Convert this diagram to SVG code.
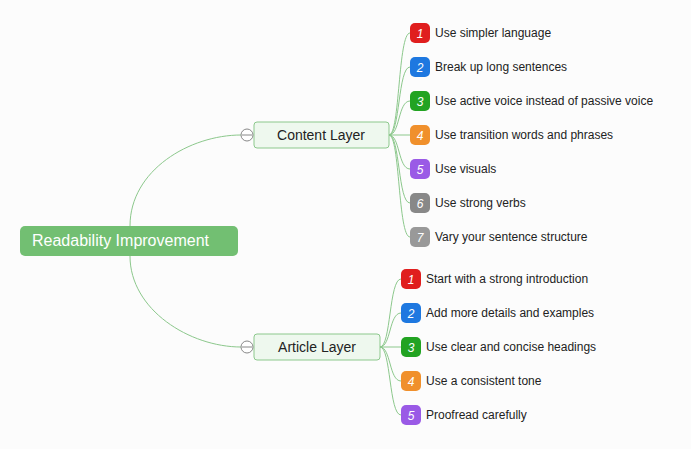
<svg xmlns="http://www.w3.org/2000/svg" width="691" height="449" viewBox="0 0 691 449">
<defs>
<style>
.c{fill:none;stroke:#8cc88c;stroke-width:1}
.t{font-family:"Liberation Sans",Arial,sans-serif;font-size:12px;fill:#222}
.b{font-family:"Liberation Sans",Arial,sans-serif;font-size:12px;font-style:italic;fill:#fff;text-anchor:middle}
.l{fill:#eef8ee;stroke:#8cc88c}
.lt{font-family:"Liberation Sans",Arial,sans-serif;font-size:14px;fill:#222;text-anchor:middle}
.k{fill:#fff;stroke:#888}
</style>
</defs>
<rect width="691" height="449" fill="#fcfcfc"/>
<g id="connectors">
<path class="c" d="M130,226 C130,170 190,135 241,135"/>
<path class="c" d="M130,256 C130,310 190,347 241,347"/>
<path class="c" d="M389,135 C400,135 398,33 410,33"/>
<path class="c" d="M389,135 C400,135 398,67 410,67"/>
<path class="c" d="M389,135 C400,135 398,101 410,101"/>
<path class="c" d="M389,135 L410,135"/>
<path class="c" d="M389,135 C400,135 398,169 410,169"/>
<path class="c" d="M389,135 C400,135 398,203 410,203"/>
<path class="c" d="M389,135 C400,135 398,237 410,237"/>
<path class="c" d="M380,347 C391,347 389,279 401,279"/>
<path class="c" d="M380,347 C391,347 389,313 401,313"/>
<path class="c" d="M380,347 L401,347"/>
<path class="c" d="M380,347 C391,347 389,381 401,381"/>
<path class="c" d="M380,347 C391,347 389,415 401,415"/>
</g>
<g id="root">
<rect x="20" y="226" width="218" height="30" rx="5" fill="#72bf72"/>
<text x="32" y="246" font-family="Liberation Sans,Arial,sans-serif" font-size="16" fill="#fff">Readability Improvement</text>
</g>
<g id="content-layer">
<rect class="l" x="254" y="122" width="135" height="26" rx="3"/>
<text class="lt" x="321" y="140">Content Layer</text>
<circle class="k" cx="247" cy="135" r="6"/><line x1="242" y1="135" x2="252" y2="135" stroke="#888"/>
</g>
<g id="article-layer">
<rect class="l" x="254" y="334" width="126" height="26" rx="3"/>
<text class="lt" x="317" y="352">Article Layer</text>
<circle class="k" cx="247" cy="347" r="6"/><line x1="242" y1="347" x2="252" y2="347" stroke="#888"/>
</g>
<g id="c1"><rect x="410" y="23" width="20" height="20" rx="5" fill="#e01e1e"/><text class="b" x="420" y="38">1</text><text class="t" x="435" y="37">Use simpler language</text></g>
<g id="c2"><rect x="410" y="57" width="20" height="20" rx="5" fill="#1e78e0"/><text class="b" x="420" y="72">2</text><text class="t" x="435" y="71">Break up long sentences</text></g>
<g id="c3"><rect x="410" y="91" width="20" height="20" rx="5" fill="#22a322"/><text class="b" x="420" y="106">3</text><text class="t" x="435" y="105">Use active voice instead of passive voice</text></g>
<g id="c4"><rect x="410" y="125" width="20" height="20" rx="5" fill="#f0902c"/><text class="b" x="420" y="140">4</text><text class="t" x="435" y="139">Use transition words and phrases</text></g>
<g id="c5"><rect x="410" y="159" width="20" height="20" rx="5" fill="#9a5ae6"/><text class="b" x="420" y="174">5</text><text class="t" x="435" y="173">Use visuals</text></g>
<g id="c6"><rect x="410" y="193" width="20" height="20" rx="5" fill="#888"/><text class="b" x="420" y="208">6</text><text class="t" x="435" y="207">Use strong verbs</text></g>
<g id="c7"><rect x="410" y="227" width="20" height="20" rx="5" fill="#999"/><text class="b" x="420" y="242">7</text><text class="t" x="435" y="241">Vary your sentence structure</text></g>
<g id="a1"><rect x="401" y="269" width="20" height="20" rx="5" fill="#e01e1e"/><text class="b" x="411" y="284">1</text><text class="t" x="426" y="283">Start with a strong introduction</text></g>
<g id="a2"><rect x="401" y="303" width="20" height="20" rx="5" fill="#1e78e0"/><text class="b" x="411" y="318">2</text><text class="t" x="426" y="317">Add more details and examples</text></g>
<g id="a3"><rect x="401" y="337" width="20" height="20" rx="5" fill="#22a322"/><text class="b" x="411" y="352">3</text><text class="t" x="426" y="351">Use clear and concise headings</text></g>
<g id="a4"><rect x="401" y="371" width="20" height="20" rx="5" fill="#f0902c"/><text class="b" x="411" y="386">4</text><text class="t" x="426" y="385">Use a consistent tone</text></g>
<g id="a5"><rect x="401" y="405" width="20" height="20" rx="5" fill="#9a5ae6"/><text class="b" x="411" y="420">5</text><text class="t" x="426" y="419">Proofread carefully</text></g>
</svg>
